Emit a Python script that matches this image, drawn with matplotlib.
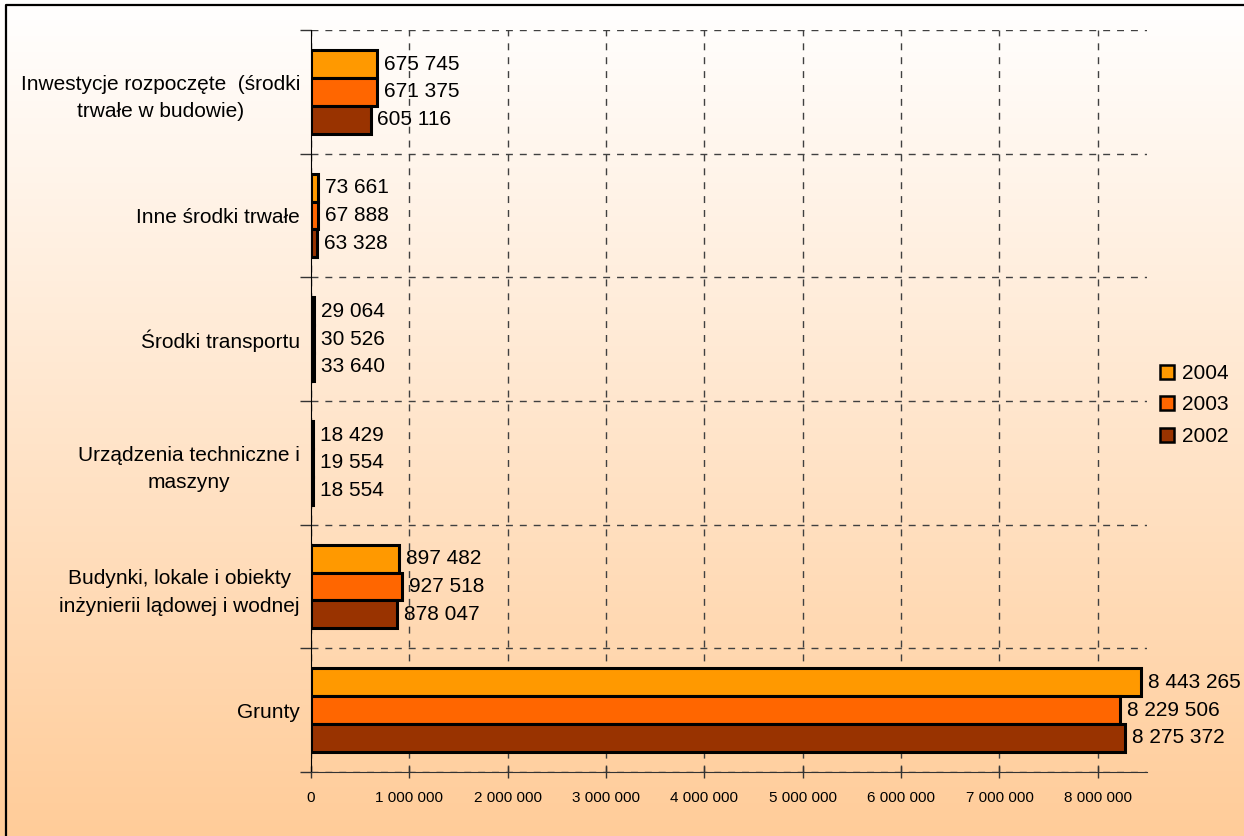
import numpy as np
import matplotlib
matplotlib.use("Agg")
import matplotlib.pyplot as plt
from matplotlib.lines import Line2D
from matplotlib.colors import LinearSegmentedColormap

plt.rcParams['font.family'] = ['Liberation Sans', 'DejaVu Sans']

# dane (od dołu do góry)
kategorie = [
    "Grunty",
    "Budynki, lokale i obiekty\ninżynierii lądowej i wodnej",
    "Urządzenia techniczne i\nmaszyny",
    "Środki transportu",
    "Inne środki trwałe",
    "Inwestycje rozpoczęte  (środki\ntrwałe w budowie)",
]
lata = ["2004", "2003", "2002"]
v2004 = [8443265, 897482, 18429, 29064, 73661, 675745]
v2003 = [8229506, 927518, 19554, 30526, 67888, 671375]
v2002 = [8275372, 878047, 18554, 33640, 63328, 605116]
kolory = ["#FF9900", "#FF6600", "#993300"]
xticks = np.arange(0, 8000001, 1000000)

W, H = 1244, 836
fig = plt.figure(figsize=(W / 100, H / 100), dpi=100)

# tło z gradientem
bg = fig.add_axes([0, 0, 1, 1], zorder=-10)
cmap = LinearSegmentedColormap.from_list("tlo", ["#FFFFFF", "#FFCC99"])
grad = np.linspace(0, 1, 256).reshape(-1, 1)
bg.imshow(grad, aspect='auto', cmap=cmap, extent=[0, 1, 0, 1], origin='upper')
bg.set_axis_off()

# ramka
fig.add_artist(Line2D([6 / W, 6 / W, 1], [0, 1 - 5 / H, 1 - 5 / H],
                      transform=fig.transFigure, color='black', lw=1.6))

ax = fig.add_axes([311 / W, (H - 772) / H, (1147 - 311) / W, (772 - 30) / H])
ax.set_facecolor('none')

y = np.arange(len(kategorie))
h = 0.225
for vals, off, kol, lab in zip([v2004, v2003, v2002], [h, 0, -h], kolory, lata):
    ax.barh(y + off, vals, height=h, color=kol, edgecolor='black', linewidth=2.2,
            label=lab, zorder=3)
    for yy, v in zip(y + off, vals):
        ax.annotate(f"{v:,}".replace(",", " "), (v, yy), xytext=(5, 0),
                    textcoords='offset points', va='center', ha='left',
                    fontsize=15, zorder=4)

ax.set_xlim(0, 8500000)
ax.set_ylim(-0.5, 5.5)
ax.set_xticks(xticks)
ax.set_xticklabels([f"{t:,}".replace(",", " ") for t in xticks], fontsize=11)
ax.tick_params(axis='x', direction='inout', length=8, width=1, color='#333333', pad=10)

ax.set_yticks(np.arange(-0.5, 6, 1))
ax.set_yticklabels([])
ax.tick_params(axis='y', which='major', direction='out', length=8, width=1, color='#333333')
ax.set_yticks(y, minor=True)
ax.set_yticklabels(kategorie, minor=True, fontsize=15, multialignment='center',
                   linespacing=1.55)
ax.tick_params(axis='y', which='minor', length=0, pad=8)

ax.grid(True, which='major', color='#404040', linestyle=(0, (5, 5)), linewidth=1, zorder=1)
for s in ['top', 'right']:
    ax.spines[s].set_visible(False)
ax.spines['left'].set_color('black')
ax.spines['bottom'].set_color('#333333')

handles = [Line2D([], [], marker='s', linestyle='none', markersize=9.5,
                  markerfacecolor=k, markeredgecolor='black', markeredgewidth=1.8)
           for k in kolory]
fig.legend(handles, lata, loc='center left', bbox_to_anchor=(1146 / W, 1 - 405 / H),
           frameon=False, fontsize=15, handletextpad=0.25, labelspacing=0.6,
           handlelength=1.0, borderpad=0)

fig.savefig("out.png", dpi=100)
